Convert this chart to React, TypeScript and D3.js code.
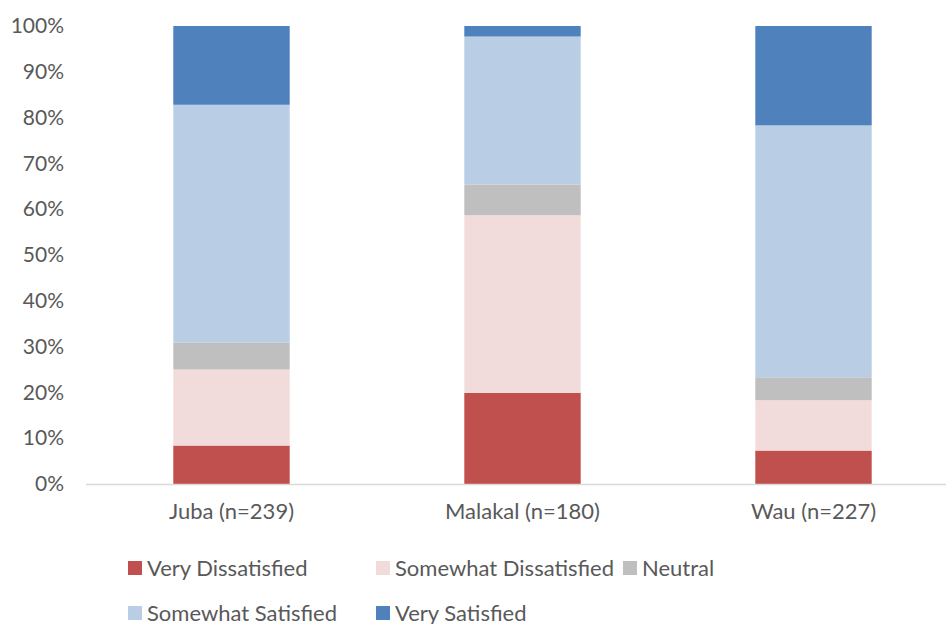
import React, { useRef, useEffect } from 'react';
import * as d3 from 'd3';

// Survey satisfaction by location (percent of respondents)
const categories = ['Juba (n=239)', 'Malakal (n=180)', 'Wau (n=227)'];
const seriesNames = ['Very Dissatisfied', 'Somewhat Dissatisfied', 'Neutral', 'Somewhat Satisfied', 'Very Satisfied'];
const veryDissatisfied = [8.4, 19.9, 7.3];
const somewhatDissatisfied = [16.6, 38.8, 11.0];
const neutral = [5.9, 6.7, 5.0];
const somewhatSatisfied = [51.9, 32.3, 55.0];
const verySatisfied = [17.2, 2.3, 21.7];
const yTicks = [0, 10, 20, 30, 40, 50, 60, 70, 80, 90, 100];
const colors = ['#C0504D', '#F2DCDB', '#BFBFBF', '#B9CDE5', '#4F81BD'];

const FONT = 'Lato, "Open Sans", sans-serif';
const TEXT = '#595959';

const App = () => {
  const chartRef = useRef<SVGSVGElement | null>(null);

  useEffect(() => {
    if (!chartRef.current) return;
    const svg = d3.select(chartRef.current);
    svg.selectAll('*').remove();

    const width = 946;

    // Build table for the stack layout
    const values = [veryDissatisfied, somewhatDissatisfied, neutral, somewhatSatisfied, verySatisfied];
    const rows = categories.map((c, i) => {
      const row: any = { category: c };
      seriesNames.forEach((s, j) => (row[s] = values[j][i]));
      return row;
    });
    const stacked = d3.stack().keys(seriesNames)(rows);

    const xScale = d3.scaleBand().domain(categories).range([86, 959]).paddingInner(0.6).paddingOuter(0.3);
    const yScale = d3.scaleLinear().domain([0, 100]).range([484, 26]);

    // y-axis labels
    const yAxis = d3
      .axisLeft(yScale)
      .tickValues(yTicks)
      .tickFormat((d) => `${d}%`)
      .tickSize(0)
      .tickPadding(10);
    const yg = svg.append('g').attr('transform', 'translate(74,0)').call(yAxis);
    yg.select('.domain').remove();
    yg.selectAll('text').attr('fill', TEXT).style('font-family', FONT).style('font-size', '21px');

    // bars
    const layer = svg
      .selectAll('.layer')
      .data(stacked)
      .enter()
      .append('g')
      .attr('class', 'layer')
      .attr('fill', (d, i) => colors[i]);

    layer
      .selectAll('rect')
      .data((d) => d)
      .enter()
      .append('rect')
      .attr('x', (d: any) => xScale(d.data.category) as number)
      .attr('y', (d) => yScale(d[1]))
      .attr('width', xScale.bandwidth())
      .attr('height', (d) => yScale(d[0]) - yScale(d[1]));

    // x-axis
    const xAxis = d3.axisBottom(xScale).tickSize(0).tickPadding(19);
    const xg = svg.append('g').attr('transform', `translate(0,${yScale(0)})`).call(xAxis);
    xg.select('.domain').remove();
    xg.selectAll('text').attr('fill', TEXT).style('font-family', FONT).style('font-size', '22px');
    svg
      .append('line')
      .attr('x1', 86)
      .attr('x2', width)
      .attr('y1', yScale(0) + 0.5)
      .attr('y2', yScale(0) + 0.5)
      .attr('stroke', '#D9D9D9')
      .attr('stroke-width', 1.5);

    // legend
    const legendPos = [
      [128, 568],
      [376, 568],
      [623, 568],
      [128, 613],
      [376, 613],
    ];
    const legend = svg
      .selectAll('.legend')
      .data(seriesNames)
      .enter()
      .append('g')
      .attr('class', 'legend')
      .attr('transform', (d, i) => `translate(${legendPos[i][0]},${legendPos[i][1]})`);
    legend
      .append('rect')
      .attr('x', 0)
      .attr('y', -7)
      .attr('width', 14)
      .attr('height', 14)
      .attr('fill', (d, i) => colors[i]);
    legend
      .append('text')
      .attr('x', 19)
      .attr('y', 0)
      .attr('dy', '0.35em')
      .attr('fill', TEXT)
      .style('font-family', FONT)
      .style('font-size', '22px')
      .text((d) => d);
  }, []);

  return (
    <svg
      ref={chartRef}
      width={946}
      height={624}
      style={{ position: 'absolute', left: 0, top: 0, background: '#fff' }}
    />
  );
};

export default App;
